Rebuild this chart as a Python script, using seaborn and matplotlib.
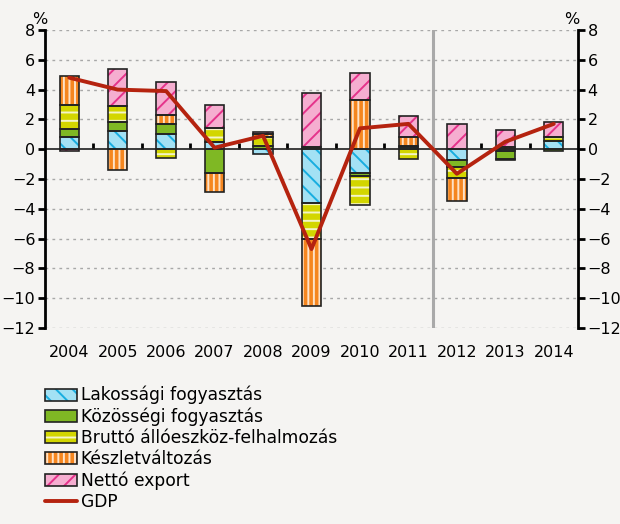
import numpy as np
import pandas as pd
import matplotlib
matplotlib.use("Agg")
import matplotlib.pyplot as plt
import seaborn as sns
from matplotlib.patches import Patch
from matplotlib.lines import Line2D

# data (percent)
years = ["2004", "2005", "2006", "2007", "2008", "2009", "2010", "2011", "2012", "2013", "2014"]
lakossagi = [0.8, 1.2, 1.0, 0.5, -0.3, -3.6, -1.6, 0.15, -0.7, -0.15, 0.55]
kozossegi = [0.55, 0.65, 0.7, -1.6, 0.2, 0.12, -0.2, 0.05, -0.5, -0.5, -0.15]
brutto = [1.6, 1.05, -0.6, 0.9, 0.6, -2.45, -1.95, -0.65, -0.7, -0.1, 0.3]
keszlet = [1.95, -1.4, 0.6, -1.25, 0.2, -4.45, 3.3, 0.6, -1.6, 0.17, 0.0]
netto = [-0.1, 2.5, 2.2, 1.55, 0.17, 3.65, 1.8, 1.4, 1.7, 1.15, 1.0]
gdp = [4.8, 4.0, 3.9, 0.1, 0.9, -6.7, 1.4, 1.7, -1.65, 0.5, 1.7]

series_names = ["Lakossági fogyasztás", "Közösségi fogyasztás",
                "Bruttó állóeszköz-felhalmozás", "Készletváltozás", "Nettó export"]
series_values = [lakossagi, kozossegi, brutto, keszlet, netto]

# face colour, hatch colour, hatch pattern
styles = [
    ("#a3e1f4", "#18ade0", "\\\\"),
    ("#7fb824", "#7fb824", ""),
    ("#d3d600", "#f4f4c8", "--"),
    ("#f5861f", "#fde2c8", "|||"),
    ("#f5aed0", "#e5338b", "//"),
]
bg = "#f5f4f2"
gdp_color = "#b5230f"

sns.set_theme(style="white")
plt.rcParams["font.family"] = ["DejaVu Sans"]
plt.rcParams["hatch.linewidth"] = 1.4
plt.rcParams["text.color"] = "black"

fig = plt.figure(figsize=(6.2, 5.24), dpi=100, facecolor=bg)
ax = fig.add_axes([45 / 620, 1 - 328 / 524, 533 / 620, 298 / 524])
ax.set_facecolor(bg)

x = np.arange(len(years))
width = 0.4
pos_base = np.zeros(len(years))
neg_base = np.zeros(len(years))

for vals, (face, hcol, hatch) in zip(series_values, styles):
    vals = np.array(vals)
    bottoms = np.where(vals >= 0, pos_base, neg_base)
    ax.bar(x, vals, width, bottom=bottoms, color=face, edgecolor=hcol,
           hatch=hatch, linewidth=0, zorder=3)
    ax.bar(x, vals, width, bottom=bottoms, fill=False, edgecolor="#222222",
           linewidth=1.2, zorder=4)
    pos_base = pos_base + np.where(vals >= 0, vals, 0)
    neg_base = neg_base + np.where(vals < 0, vals, 0)

df_gdp = pd.DataFrame({"x": x, "GDP": gdp})
sns.lineplot(data=df_gdp, x="x", y="GDP", color=gdp_color, linewidth=2.8,
             ax=ax, zorder=6)

ax.set_xlim(-0.5, len(years) - 0.5)
ax.set_ylim(-12, 8)
ax.set_yticks(range(-12, 9, 2))
ax.set_xticks(x)
ax.set_xticklabels(years)
ax.set_xlabel("")
ax.set_ylabel("")

for y in range(-12, 9, 2):
    if y != 0:
        ax.axhline(y, color="#a8a8a8", lw=1.0, ls=(0, (2, 3)), zorder=1)

ax.axvline(7.5, color="#a9a9a9", lw=2.2, zorder=2)

for s in ["top", "bottom", "right"]:
    ax.spines[s].set_visible(False)
ax.spines["left"].set_linewidth(2)
ax.spines["left"].set_color("black")
ax.tick_params(axis="y", direction="out", length=5, width=2, pad=2,
               labelsize=11.5, colors="black", left=True)
ax.tick_params(axis="x", length=0, pad=12, labelsize=11.5, colors="black")

# zero line with ticks between categories
zero = ax.secondary_xaxis(12 / 20)
zero.spines["bottom"].set_linewidth(2)
zero.set_xticks(np.arange(0.5, len(years) - 1, 1.0))
zero.set_xticklabels([])
zero.tick_params(axis="x", direction="out", length=4, width=2, colors="black")

ax2 = ax.twinx()
ax2.set_ylim(-12, 8)
ax2.set_yticks(range(-12, 9, 2))
for s in ["top", "bottom", "left"]:
    ax2.spines[s].set_visible(False)
ax2.spines["right"].set_linewidth(2)
ax2.spines["right"].set_color("black")
ax2.tick_params(axis="y", direction="out", length=5, width=2, pad=2,
                labelsize=11.5, colors="black", right=True)
ax2.grid(False)

fig.text(40 / 620, 1 - 19 / 524, "%", fontsize=11.5, ha="center", va="center")
fig.text(572 / 620, 1 - 19 / 524, "%", fontsize=11.5, ha="center", va="center")

handles = []
for face, hcol, hatch in styles:
    h1 = Patch(facecolor=face, edgecolor=hcol, hatch=hatch, linewidth=0)
    h2 = Patch(fill=False, edgecolor="#222222", linewidth=1.2)
    handles.append((h1, h2))
handles.append(Line2D([], [], color=gdp_color, lw=2.8))
labels = series_names + ["GDP"]

fig.legend(handles, labels, loc="upper left",
           bbox_to_anchor=(45 / 620, 1 - 386 / 524), frameon=False,
           fontsize=12.3, handlelength=1.9, handleheight=0.7,
           handletextpad=0.2, labelspacing=0.18, borderaxespad=0,
           borderpad=0)

fig.savefig("out.png", dpi=100, facecolor=bg)
